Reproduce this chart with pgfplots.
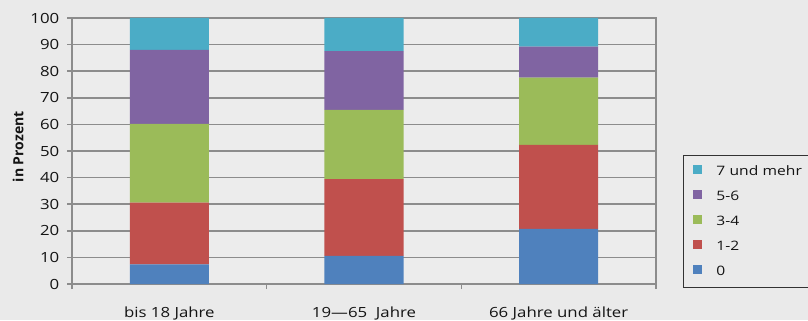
\documentclass[border=0pt]{standalone}
\usepackage{fontspec}
\setmainfont{Open Sans}[FakeStretch=1.2]
\newfontfamily\labelfont{Open Sans}
\usepackage{pgfplots}
\usepackage{pgfplotstable}
\pgfplotsset{compat=1.18}

\definecolor{bg}{HTML}{EAEAEA}
\definecolor{plotbg}{HTML}{ECECEC}
\definecolor{gridgray}{HTML}{8C8C8C}
\definecolor{cZero}{HTML}{4F81BD}
\definecolor{cOne}{HTML}{C0504D}
\definecolor{cThree}{HTML}{9BBB59}
\definecolor{cFive}{HTML}{8064A2}
\definecolor{cSeven}{HTML}{4BACC6}

% small filled squares in the legend
\pgfplotsset{sq legend/.style={legend image code/.code={\fill[##1] (0bp,-2.5bp) rectangle (9bp,6.5bp);}}}

% share of persons by number of ... per age group (percent)
\pgfplotstableread{
x  zero  one   three five  seven
0  7.4   23.2  29.6  27.8  12.0
1  10.6  28.8  26.1  22.0  12.5
2  20.7  31.6  25.3  11.6  10.8
}\haushalt

\begin{document}
\begin{tikzpicture}[x=1bp,y=1bp]
\useasboundingbox (0,0) rectangle (808,320);
\fill[bg] (0,0) rectangle (808,320);
\begin{axis}[
  at={(72bp,36bp)}, anchor=south west,
  scale only axis, width=584bp, height=266bp,
  ybar stacked, bar width=0.406,
  xmin=-0.5, xmax=2.5, ymin=0, ymax=100,
  xtick={-0.5,0.5,1.5,2.5},
  x tick label as interval,
  xticklabels={bis 18 Jahre, 19---65\ \ Jahre, 66 Jahre und älter},
  ytick={0,10,...,100},
  ymajorgrids,
  grid style={gridgray, line width=1.5bp},
  axis line style={gridgray, line width=1.5bp},
  tick style={gridgray, line width=1.5bp},
  tick align=outside, major tick length=5bp,
  xtick pos=lower, ytick pos=left,
  axis background/.style={fill=plotbg},
  /pgf/number format/assume math mode=true,
  tick label style={font=\fontsize{14bp}{16bp}\selectfont, text=black!92},
  yticklabel style={anchor=east, inner sep=0pt, xshift=-7.5bp},
  xticklabel style={anchor=base, inner sep=0pt, yshift=-28bp},
  ylabel={in Prozent},
  ylabel style={at={(axis description cs:-0.0834,0.516)}, anchor=base,
    font=\labelfont\bfseries\fontsize{14bp}{16bp}\selectfont, text=black!92},
  reverse legend,
  legend cell align=left,
  legend style={at={(1.0462,0.485)}, anchor=north west,
    draw=black!80, line width=0.8bp, fill=none,
    inner xsep=10bp, inner ysep=10bp, row sep=13bp, column sep=14bp,
    font=\fontsize{13bp}{15bp}\selectfont, text=black!92,
    nodes={inner sep=0pt, text height=9bp, text depth=2bp},
    /tikz/every even column/.append style={text width=120bp}},
]
\addplot[fill=cZero, draw=none, sq legend] table[x=x, y=zero] {\haushalt};
\addplot[fill=cOne, draw=none, sq legend] table[x=x, y=one] {\haushalt};
\addplot[fill=cThree, draw=none, sq legend] table[x=x, y=three] {\haushalt};
\addplot[fill=cFive, draw=none, sq legend] table[x=x, y=five] {\haushalt};
\addplot[fill=cSeven, draw=none, sq legend] table[x=x, y=seven] {\haushalt};
\legend{0, 1-2, 3-4, 5-6, 7 und mehr}
\end{axis}
\end{tikzpicture}
\end{document}
